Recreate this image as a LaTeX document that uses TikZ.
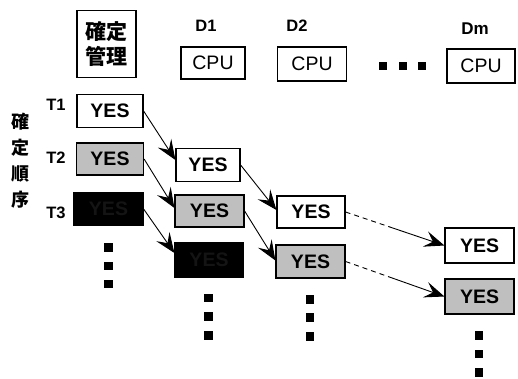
\documentclass[tikz,border=0pt]{standalone}
\usepackage{fontspec}
\setmainfont{Liberation Sans}
\newfontfamily\jpfont{Noto Sans CJK JP}
\usetikzlibrary{arrows.meta,calc}

\begin{document}
\begin{tikzpicture}[x=1pt,y=1pt,
  box/.style={draw, line width=1.2pt, inner sep=0pt, font=\bfseries\fontsize{19.5}{20}\selectfont},
  wbox/.style={box, fill=white},
  gbox/.style={box, fill=black!25},
  bbox/.style={box, fill=black, text=black!92},
  cpubox/.style={box, fill=white, font=\fontsize{19.5}{20}\selectfont},
  lbl/.style={font=\bfseries\fontsize{16.5}{18}\selectfont},
  jp/.style={font=\jpfont\bfseries\fontsize{18}{18}\selectfont},
  sq/.style={fill=black, inner sep=0pt, minimum width=8.5pt, minimum height=8.5pt},
  link/.style={line width=0.9pt, -{Stealth[length=20pt,width=16pt,inset=8pt]}},
  weak/.style={line width=0.9pt, dash pattern=on 5pt off 4pt},
]
\useasboundingbox (0,0) rectangle (518,378);

% management box and header row
\node[box, minimum width=59pt, minimum height=67pt, align=center,
      font=\jpfont\bfseries\fontsize{21}{25}\selectfont] (mgmt) at (106.5,334) {確定\\管理};
\node[lbl] (d1) at (206,352) {D1};
\node[lbl] (d2) at (297,352) {D2};
\node[lbl, font=\bfseries\fontsize{17}{18}\selectfont] (dm) at (475,349) {Dm};
\node[cpubox, minimum width=64pt, minimum height=32pt] (cpu1) at (213,315) {CPU};
\node[cpubox, minimum width=69pt, minimum height=34pt] (cpu2) at (312,314) {CPU};
\node[cpubox, minimum width=68pt, minimum height=34pt] (cpum) at (481,312) {CPU};
\node[sq] (h1) at (383,312) {};
\node[sq] (h2) at (403,312) {};
\node[sq] (h3) at (422,312) {};

% vertical caption
\node[jp] (v1) at (20,256) {確};
\node[jp] (v2) at (20,230) {定};
\node[jp] (v3) at (20,204) {順};
\node[jp] (v4) at (20,178) {序};

% transaction labels
\node[lbl] (lt1) at (56,273) {T1};
\node[lbl] (lt2) at (56,220) {T2};
\node[lbl] (lt3) at (56,165) {T3};

% management column
\node[wbox, minimum width=66pt, minimum height=33pt] (t1) at (110,267) {YES};
\node[gbox, minimum width=67pt, minimum height=32pt] (t2) at (110,219) {YES};
\node[bbox, minimum width=69pt, minimum height=32pt] (t3) at (108.5,169) {YES};

% D1 column
\node[wbox, minimum width=64pt, minimum height=33pt] (a1) at (208,213) {YES};
\node[gbox, minimum width=69pt, minimum height=32pt] (a2) at (209.5,167) {YES};
\node[bbox, minimum width=68pt, minimum height=34pt] (a3) at (209,118) {YES};

% D2 column
\node[wbox, minimum width=68pt, minimum height=32pt] (b1) at (311,166) {YES};
\node[gbox, minimum width=69pt, minimum height=33pt] (b2) at (310.5,116.5) {YES};

% Dm column
\node[wbox, minimum width=69pt, minimum height=35pt] (c1) at (479.5,132.5) {YES};
\node[gbox, minimum width=69pt, minimum height=35pt] (c2) at (479.5,81.5) {YES};

% continuation marks
\foreach \n/\x/\ya/\yb/\yc in {k/108.5/130.5/112/94, p/208.5/80/61.5/42.5,
                               q/310/78.5/60.5/41.5, r/479/42.5/24/5.5} {
  \node[sq] (\n1) at (\x,\ya) {};
  \node[sq] (\n2) at (\x,\yb) {};
  \node[sq] (\n3) at (\x,\yc) {};
}

% propagation arrows
\draw[link] (t1.east) -- ($(a1.west)+(0,5)$);
\draw[link] (t2.east) -- ($(a2.west)+(0,3)$);
\draw[link] (t3.east) -- ($(a3.west)+(0,7)$);
\draw[link] (a1.east) -- ($(b1.west)+(0,2)$);
\draw[link] (a2.east) -- ($(b2.west)+(0,1)$);

\coordinate (m1) at ($(b1.east)!0.45!(c1.west)$);
\coordinate (m2) at ($(b2.east)!0.45!(c2.west)$);
\draw[weak] (b1.east) -- (m1);
\draw[link] (m1) -- (c1.west);
\draw[weak] (b2.east) -- (m2);
\draw[link] (m2) -- (c2.west);
\end{tikzpicture}
\end{document}
